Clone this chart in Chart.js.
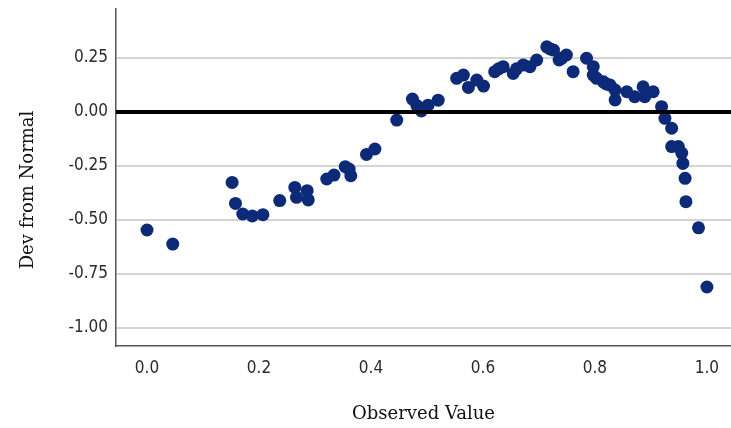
<!DOCTYPE html>
<html>
<head>
<meta charset="utf-8">
<script src="https://cdn.jsdelivr.net/npm/chart.js@4"></script>
<style>
    html, body { margin: 0; padding: 0; background: #fff; }
    #wrap { width: 731px; height: 428px; position: relative; }
</style>
</head>
<body>
<div id="wrap"><canvas id="devChart"></canvas></div>
<script>
// ===========================
// Data
// ===========================

const observedValue = [
    0.000, 0.046, 0.152, 0.158, 0.171, 0.188, 0.207, 0.237, 0.264, 0.267,
    0.286, 0.288, 0.321, 0.334, 0.354, 0.361, 0.364, 0.392, 0.407, 0.446,
    0.474, 0.482, 0.490, 0.502, 0.520, 0.553, 0.565, 0.574, 0.589, 0.601,
    0.621, 0.628, 0.636, 0.654, 0.660, 0.672, 0.684, 0.696, 0.714, 0.720,
    0.726, 0.736, 0.741, 0.749, 0.761, 0.785, 0.797, 0.797, 0.803, 0.815,
    0.820, 0.827, 0.836, 0.836, 0.857, 0.871, 0.886, 0.889, 0.904, 0.919,
    0.925, 0.937, 0.937, 0.949, 0.955, 0.957, 0.961, 0.9625, 0.985, 1.000
];

const devFromNormal = [
    -0.546, -0.611, -0.326, -0.423, -0.472, -0.481, -0.475, -0.410, -0.349, -0.395,
    -0.364, -0.407, -0.310, -0.292, -0.253, -0.264, -0.295, -0.196, -0.171, -0.037,
    0.060, 0.030, 0.005, 0.032, 0.055, 0.156, 0.171, 0.114, 0.148, 0.120,
    0.187, 0.200, 0.210, 0.179, 0.200, 0.218, 0.210, 0.241, 0.302, 0.292,
    0.287, 0.241, 0.250, 0.264, 0.187, 0.249, 0.210, 0.171, 0.156, 0.140,
    0.130, 0.125, 0.102, 0.056, 0.094, 0.071, 0.117, 0.071, 0.094, 0.025,
    -0.029, -0.075, -0.160, -0.160, -0.190, -0.238, -0.307, -0.415, -0.536, -0.810
];

const xTicks = [0.0, 0.2, 0.4, 0.6, 0.8, 1.0];
const yTicks = [-1.00, -0.75, -0.50, -0.25, 0.00, 0.25];

const X_MIN = -0.0554;
const X_MAX = 1.043;
const Y_MIN = -1.083;
const Y_MAX = 0.477;

// ===========================
// Chart
// ===========================

const tickFont = { family: '"DejaVu Sans Condensed", "DejaVu Sans", sans-serif', size: 17 };
const titleFont = { family: '"DejaVu Serif", "Liberation Serif", serif', size: 18 };

// y axis title drawn by hand so it sits where the original has it
const yTitlePlugin = {
    id: 'yTitle',
    afterDraw(chart) {
        const ctx = chart.ctx;
        ctx.save();
        ctx.translate(28, 190);
        ctx.rotate(-Math.PI / 2);
        ctx.font = `${titleFont.size}px ${titleFont.family}`;
        ctx.fillStyle = '#111';
        ctx.textAlign = 'center';
        ctx.textBaseline = 'middle';
        ctx.fillText('Dev from Normal', 0, 0);
        ctx.restore();
    }
};

const points = observedValue.map((x, i) => ({ x: x, y: devFromNormal[i] }));

new Chart(document.getElementById('devChart'), {
    type: 'scatter',
    data: {
        datasets: [
            {
                label: 'Zero',
                type: 'line',
                data: [{ x: X_MIN, y: 0 }, { x: X_MAX, y: 0 }],
                borderColor: '#000',
                borderWidth: 4,
                pointRadius: 0,
                order: 0
            },
            {
                label: 'Dev from Normal',
                data: points,
                backgroundColor: '#0c2a78',
                borderColor: '#0c2a78',
                pointRadius: 6.5,
                pointBorderWidth: 0,
                order: 1
            }
        ]
    },
    options: {
        responsive: true,
        maintainAspectRatio: false,
        animation: false,
        layout: { autoPadding: false, padding: { top: 9, left: 0, right: 0, bottom: 0 } },
        plugins: {
            legend: { display: false },
            tooltip: { enabled: false }
        },
        scales: {
            x: {
                type: 'linear',
                min: X_MIN,
                max: X_MAX,
                afterBuildTicks: (scale) => { scale.ticks = xTicks.map(v => ({ value: v })); },
                afterFit: (scale) => {
                    scale.height = 82;
                    scale.paddingLeft = 0;
                    scale.paddingRight = 0;
                },
                grid: { display: false, drawTicks: false },
                border: { display: true, color: '#555', width: 1.5 },
                ticks: {
                    font: tickFont,
                    color: '#2a2a2a',
                    padding: 12,
                    maxRotation: 0,
                    callback: (v) => Number(v).toFixed(1)
                },
                title: {
                    display: true,
                    text: 'Observed Value',
                    font: titleFont,
                    color: '#111',
                    padding: { top: 0, bottom: 3 }
                }
            },
            y: {
                type: 'linear',
                min: Y_MIN,
                max: Y_MAX,
                afterBuildTicks: (scale) => { scale.ticks = yTicks.map(v => ({ value: v })); },
                afterFit: (scale) => {
                    scale.width = 116;
                    scale.paddingTop = 0;
                    scale.paddingBottom = 0;
                },
                grid: { color: '#d4d4d4', lineWidth: 2, drawTicks: false },
                border: { display: true, color: '#555', width: 1.5 },
                ticks: {
                    font: tickFont,
                    color: '#2a2a2a',
                    padding: 8,
                    callback: (v) => Number(v).toFixed(2)
                }
            }
        }
    },
    plugins: [yTitlePlugin]
});
</script>
</body>
</html>
